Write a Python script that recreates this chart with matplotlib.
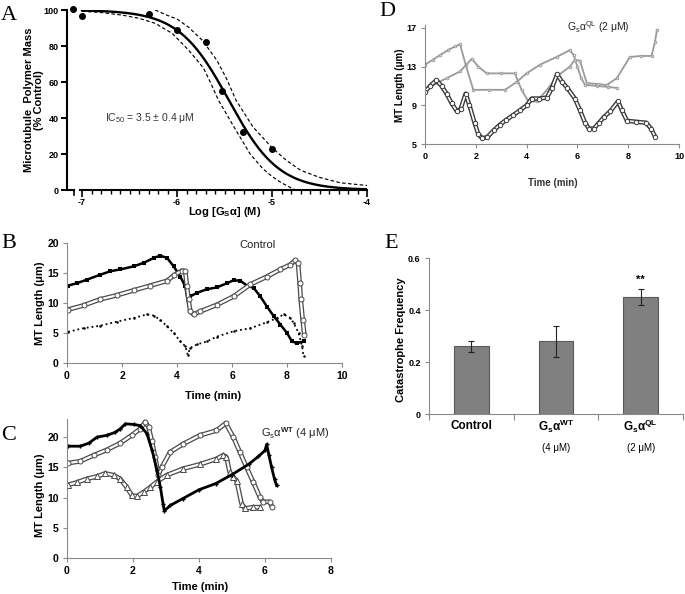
import numpy as np
import matplotlib
matplotlib.use("Agg")
import matplotlib.pyplot as plt
from matplotlib.transforms import blended_transform_factory

plt.rcParams['font.family'] = ['Liberation Sans', 'DejaVu Sans']
plt.rcParams['mathtext.fontset'] = 'custom'
plt.rcParams['mathtext.rm'] = 'Liberation Sans'
plt.rcParams['mathtext.bf'] = 'Liberation Sans:bold'
plt.rcParams['mathtext.it'] = 'Liberation Sans:italic'

# ---- panel A: dose response ----
logc = [-7.1, -7.0, -6.3, -6.0, -5.7, -5.53, -5.31, -5.0]
mass = [100.3, 96.8, 97.8, 88.9, 82.0, 55.0, 32.0, 22.6]
ic50 = 3.5e-6
hill = 1.65
up_x = [-6.23, -6.1, -6.0, -5.88, -5.73, -5.58, -5.48, -5.38, -5.2, -5.0, -4.85, -4.7, -4.5, -4.28, -4.0]
up_y = [100, 97, 95, 90.5, 83, 72, 62, 50, 35, 23.5, 16.5, 11, 7, 4, 2.5]
lo_x = [-7.0, -6.8, -6.58, -6.4, -6.23, -6.05, -5.88, -5.79, -5.72, -5.65, -5.565, -5.4, -5.23, -5.1, -5.0, -4.9, -4.8, -4.75]
lo_y = [99.3, 98.6, 97.2, 95.4, 92.6, 87, 77.8, 72.2, 67.6, 60, 50, 35, 20, 12, 7.5, 4, 1.2, 0]

# ---- panel B: control ----
b1_t = [0.04, 0.36, 0.73, 1.2, 1.58, 1.94, 2.42, 2.79, 3.15, 3.39, 3.64, 3.88, 4.12, 4.3, 4.42, 4.48,
        4.73, 5.09, 5.45, 5.82, 6.06, 6.3, 6.55, 6.79, 7.03, 7.27, 7.52, 7.76, 8.0, 8.18, 8.36, 8.6]
b1_y = [12.9, 13.3, 13.9, 14.7, 15.3, 15.6, 16.1, 16.7, 17.5, 17.9, 17.5, 16.1, 14.4, 12.8, 9.6, 11.1,
        11.7, 12.3, 12.6, 13.3, 13.8, 13.7, 12.9, 12.5, 11.1, 9.4, 7.8, 6.4, 5.0, 3.6, 3.3, 3.6]
b2_t = [0.04, 0.6, 1.2, 1.82, 2.42, 3.03, 3.64, 3.88, 4.18, 4.3, 4.36, 4.42, 4.48, 4.6, 4.85, 5.45,
        6.06, 6.67, 7.27, 7.76, 8.12, 8.3, 8.4, 8.46, 8.5, 8.57, 8.63]
b2_y = [8.9, 9.6, 10.6, 11.3, 12.1, 12.9, 13.7, 14.6, 15.4, 15.3, 12.8, 10.6, 8.6, 8.1, 8.6, 9.7,
        11.1, 13.1, 14.4, 15.6, 16.4, 17.1, 16.7, 13.3, 10.6, 7.2, 4.7]
b3_t = [0.04, 0.6, 1.2, 1.82, 2.42, 2.91, 3.15, 3.39, 3.64, 3.88, 4.12, 4.3, 4.39, 4.48, 4.73, 5.09,
        5.45, 6.06, 6.67, 7.27, 7.64, 7.88, 8.12, 8.24, 8.42, 8.55, 8.6]
b3_y = [5.2, 5.8, 6.2, 6.9, 7.5, 8.1, 7.9, 7.2, 6.1, 5.0, 3.6, 2.8, 1.4, 2.5, 3.1, 3.6,
        4.4, 5.3, 5.8, 6.8, 7.5, 8.1, 7.5, 6.7, 5.0, 2.8, 1.1]

# ---- panel C: Gs alpha WT ----
c1_t = [0.03, 0.4, 0.66, 0.91, 1.21, 1.46, 1.62, 1.77, 2.02, 2.22, 2.42, 2.58, 2.73, 2.83, 2.91,
        2.95, 3.13, 3.5, 4.0, 4.5, 5.0, 5.5, 5.8, 6.0, 6.05, 6.12, 6.2, 6.29, 6.35]
c1_y = [18.5, 18.5, 19.0, 20.0, 20.3, 20.8, 21.4, 22.2, 22.1, 21.9, 20.6, 17.8, 14.5, 11.7, 9.0,
        7.8, 8.7, 9.8, 11.3, 12.3, 13.8, 15.5, 16.8, 17.8, 18.8, 17.0, 15.0, 13.0, 12.0]
c2_t = [0.03, 0.4, 0.81, 1.21, 1.61, 1.96, 2.22, 2.37, 2.47, 2.57, 2.67, 2.77, 2.87, 3.12, 3.53,
        4.03, 4.53, 4.81, 5.04, 5.24, 5.44, 5.64, 5.84, 5.94, 6.14, 6.22]
c2_y = [15.7, 16.0, 17.0, 17.9, 19.0, 20.3, 21.4, 22.5, 21.7, 19.4, 16.7, 13.8, 15.0, 17.5, 18.9,
        20.3, 21.1, 22.3, 20.0, 17.5, 15.0, 12.6, 10.1, 9.3, 9.3, 8.4]
c3_t = [0.03, 0.3, 0.6, 0.91, 1.16, 1.41, 1.61, 1.81, 1.96, 2.11, 2.32, 2.52, 2.72, 3.02, 3.53,
        4.03, 4.53, 4.73, 4.83, 4.93, 5.04, 5.14, 5.29, 5.39, 5.64, 5.84]
c3_y = [12.1, 12.5, 13.1, 13.5, 14.0, 13.7, 13.1, 11.7, 10.4, 10.2, 10.9, 11.7, 12.6, 13.7, 14.8,
        15.5, 16.4, 17.0, 16.7, 14.2, 13.4, 12.8, 9.0, 8.2, 8.4, 8.4]

# ---- panel D: Gs alpha QL ----
d1_t = [0, 0.3, 0.6, 0.9, 1.2, 1.38, 1.6, 1.9, 2.5, 3.15, 3.6, 4.0, 4.53, 5.18, 5.7, 5.85, 6.0,
        6.15, 6.3, 6.76, 7.2, 7.55]
d1_y = [13.2, 13.7, 14.2, 14.7, 15.1, 15.3, 13.2, 10.6, 10.6, 10.6, 11.4, 12.3, 13.2, 14.0, 14.7,
        14.2, 13.0, 11.8, 11.1, 11.0, 10.9, 10.8]
d2_t = [0, 0.46, 0.85, 1.38, 1.84, 2.1, 2.43, 3.0, 3.54, 3.8, 4.07, 4.4, 4.8, 5.2, 5.7, 5.9, 6.1,
        6.37, 6.8, 7.15, 7.55, 8.07, 8.5, 8.92, 9.05, 9.13]
d2_y = [10.6, 11.3, 11.8, 12.5, 13.8, 13.0, 12.3, 12.3, 12.3, 10.6, 9.4, 9.4, 10.6, 12.0, 13.0,
        13.7, 13.6, 11.3, 11.2, 11.1, 11.8, 14.0, 14.1, 14.1, 15.5, 16.8]
d3_t = [0, 0.2, 0.45, 0.65, 0.85, 1.05, 1.25, 1.4, 1.6, 1.75, 1.95, 2.1, 2.25, 2.45, 2.7, 2.95,
        3.2, 3.48, 3.75, 4.0, 4.2, 4.5, 4.8, 5.0, 5.2, 5.4, 5.6, 5.9, 6.1, 6.3, 6.45, 6.65, 6.85,
        7.05, 7.3, 7.6, 7.75, 7.95, 8.3, 8.7, 8.9, 9.06]
d3_y = [10.4, 11.0, 11.6, 11.0, 10.2, 9.2, 8.4, 8.6, 10.2, 9.0, 7.2, 6.0, 5.6, 5.7, 6.4, 7.0,
        7.5, 8.0, 8.5, 9.0, 9.7, 9.7, 9.8, 10.8, 12.2, 11.4, 10.8, 9.7, 8.5, 7.2, 6.6, 6.6, 7.2,
        7.8, 8.4, 9.4, 8.5, 7.4, 7.3, 7.2, 6.6, 5.75]

# ---- panel E: catastrophe frequency ----
groups = ['Control', r'G$_\mathbf{s}$α$^\mathbf{WT}$', r'G$_\mathbf{s}$α$^\mathbf{QL}$']
conc = ['', '(4 μM)', '(2 μM)']
freq = [0.26, 0.28, 0.45]
freq_err = [0.02, 0.06, 0.03]

W, H = 685, 594
fig = plt.figure(figsize=(W / 100, H / 100), dpi=100)


def add_ax(l, t, r, b):
    return fig.add_axes([l / W, 1 - b / H, (r - l) / W, (b - t) / H])


def ftext(x, y, s, **kw):
    fig.text(x / W, 1 - y / H, s, **kw)


def excel_style(ax, fs=7.5):
    for s in ['top', 'right']:
        ax.spines[s].set_visible(False)
    for s in ['left', 'bottom']:
        ax.spines[s].set_color('#8a8a8a')
        ax.spines[s].set_linewidth(0.8)
    ax.tick_params(direction='out', length=3, width=0.8, color='#8a8a8a', labelsize=fs, pad=3)
    for lab in ax.get_xticklabels() + ax.get_yticklabels():
        lab.set_fontweight('bold')


def hollow(ax, t, y, col, marker='o', ms=3.6, outer=3.4, inner=1.6):
    # chain of open markers: dark tube with a white core, markers on the read points
    ax.plot(t, y, '-', color=col, lw=outer, solid_capstyle='round', solid_joinstyle='round')
    ax.plot(t, y, '-', color='white', lw=inner, solid_capstyle='round', solid_joinstyle='round')
    ax.plot(t, y, marker, ms=ms, mfc='white', mec=col, mew=0.7, ls='none')


letter_font = dict(family=['Liberation Serif', 'DejaVu Serif'], fontsize=16, va='center', ha='left')

# ======== A ========
axA = add_ax(67, 10, 367, 190)
axA.set_xlim(-7.158, -4)
axA.set_ylim(0, 100)
xs = np.linspace(-7.0, -4.0, 300)
fit = 100 / (1 + 10 ** ((xs - np.log10(ic50)) * hill))
axA.plot(xs, fit, color='black', lw=1.7)
axA.plot(up_x, up_y, color='black', lw=0.85, ls=(0, (3, 2)))
axA.plot(lo_x, lo_y, color='black', lw=0.85, ls=(0, (3, 2)))
axA.plot(logc, mass, 'o', color='black', ms=4, clip_on=False, zorder=5)
for s in ['top', 'right', 'bottom']:
    axA.spines[s].set_visible(False)
axA.spines['left'].set_linewidth(1.5)
axA.plot([-7.158, -7.084], [0, 0], color='black', lw=1.5, clip_on=False)
axA.plot([-7.02, -4.0], [0, 0], color='black', lw=1.5, clip_on=False)
axA.plot([-7.084, -7.084], [0, -2.5], color='black', lw=1.2, clip_on=False)
axA.set_xticks([-7, -6, -5, -4])
axA.set_xticklabels(['-7', '-6', '-5', '-4'])
axA.set_xticks(np.arange(-7, -3.95, 0.1), minor=True)
axA.set_yticks([0, 20, 40, 60, 80, 100])
axA.tick_params(axis='x', which='major', direction='out', length=5, width=1.2, labelsize=6.5, pad=1)
axA.tick_params(axis='x', which='minor', direction='out', length=3, width=1.0)
axA.tick_params(axis='y', direction='out', length=4, width=1.4, labelsize=6.5, pad=2)
for lab in axA.get_xticklabels() + axA.get_yticklabels():
    lab.set_fontweight('bold')
ftext(150, 118, r'IC$_{50}$ = 3.5 ± 0.4 μM', fontsize=7.5, color='#333333', ha='center', va='center')
ftext(34, 100, 'Microtubule  Polymer Mass\n(% Control)', fontsize=8, fontweight='bold',
      rotation=90, ha='center', va='center', linespacing=1.1)
ftext(225, 212, r'Log [G$_\mathbf{S}$α] (M)', fontsize=8, fontweight='bold', ha='center', va='center')
ftext(1, 16, 'A', **letter_font)

# ======== B ========
axB = add_ax(67, 243, 342, 363)
axB.plot(b1_t, b1_y, '-s', color='black', lw=1.8, ms=2.4, mew=0)
hollow(axB, b2_t, b2_y, '#4a4a4a')
axB.plot(b3_t, b3_y, ':o', color='black', lw=1.3, ms=1.8, mew=0)
axB.set_xlim(0, 10)
axB.set_ylim(0, 20)
axB.set_xticks([0, 2, 4, 6, 8, 10])
axB.set_yticks([0, 5, 10, 15, 20])
excel_style(axB)
ftext(258, 245, 'Control', fontsize=8, ha='center', va='center', color='#222222')
ftext(40, 303, 'MT Length (μm)', fontsize=8, fontweight='bold', rotation=90, ha='center', va='center')
ftext(213, 396, 'Time (min)', fontsize=8, fontweight='bold', ha='center', va='center')
ftext(1, 243, 'B', **letter_font)

# ======== C ========
axC = add_ax(67, 419, 331, 558)
hollow(axC, c2_t, c2_y, '#4a4a4a')
hollow(axC, c3_t, c3_y, '#4a4a4a', marker='^', ms=4.0)
axC.plot(c1_t, c1_y, '-P', color='black', lw=2.0, ms=3.0, mew=0)
axC.set_xlim(0, 8)
axC.set_ylim(0, 23)
axC.set_xticks([0, 2, 4, 6, 8])
axC.set_yticks([0, 5, 10, 15, 20])
excel_style(axC)
ftext(295, 433, r'G$_\mathregular{s}$α$^\mathbf{WT}$ (4 μM)', fontsize=8, ha='center', va='center',
      color='#222222')
ftext(40, 495, 'MT Length (μm)', fontsize=8, fontweight='bold', rotation=90, ha='center', va='center')
ftext(200, 587, 'Time (min)', fontsize=8, fontweight='bold', ha='center', va='center')
ftext(1, 436, 'C', **letter_font)

# ======== D ========
axD = add_ax(425, 25, 679, 144)
axD.plot(d1_t, d1_y, '-o', color='#9a9a9a', lw=1.3, ms=2.0, mfc='#d8d8d8', mec='#8f8f8f', mew=0.5)
axD.plot(d2_t, d2_y, '-o', color='#9a9a9a', lw=1.3, ms=2.0, mfc='#d8d8d8', mec='#8f8f8f', mew=0.5)
hollow(axD, d3_t, d3_y, '#3a3a3a', ms=3.2, outer=3.2, inner=1.2)
axD.set_xlim(0, 10)
axD.set_ylim(5, 17.3)
axD.set_xticks([0, 2, 4, 6, 8, 10])
axD.set_yticks([5, 9, 13, 17])
excel_style(axD, fs=6.5)
ftext(598, 27, r'G$_\mathregular{s}$α$^\mathregular{QL}$ (2 μM)', fontsize=7.5, ha='center', va='center',
      color='#222222')
ftext(400, 85, 'MT Length (μm)', fontsize=7, fontweight='bold', rotation=90, ha='center', va='center')
ftext(553, 183, 'Time (min)', fontsize=7, fontweight='bold', ha='center', va='center', color='#333333')
ftext(379, 12, 'D', **letter_font)

# ======== E ========
axE = add_ax(429, 258, 683, 414)
xpos = np.arange(len(freq))
axE.bar(xpos, freq, width=0.41, color='#808080', edgecolor='#5a5a5a', lw=0.8)
axE.errorbar(xpos, freq, yerr=freq_err, fmt='none', ecolor='#222222', elinewidth=0.8, capsize=2.5,
             capthick=0.8)
axE.set_xlim(-0.5, 2.5)
axE.set_ylim(0, 0.6)
axE.set_xticks([-0.5, 0.5, 1.5, 2.5])
axE.set_xticklabels([])
axE.set_yticks([0, 0.2, 0.4, 0.6])
axE.set_yticklabels(['0', '0.2', '0.4', '0.6'])
excel_style(axE, fs=6.5)
axE.tick_params(axis='x', length=4)
tr = blended_transform_factory(axE.transData, axE.transAxes)
for i in range(len(groups)):
    axE.text(xpos[i], -0.08, groups[i], transform=tr, fontsize=8.5, fontweight='bold',
             ha='center', va='center')
    axE.text(xpos[i], -0.22, conc[i], transform=tr, fontsize=7, ha='center', va='center')
axE.text(xpos[2], freq[2] + freq_err[2] + 0.035, '**', fontsize=8, fontweight='bold',
         ha='center', va='center')
ftext(401, 340, 'Catastrophe Frequency', fontsize=8, fontweight='bold', rotation=90,
      ha='center', va='center')
ftext(384, 243, 'E', **letter_font)

fig.savefig('out.png', dpi=100)
